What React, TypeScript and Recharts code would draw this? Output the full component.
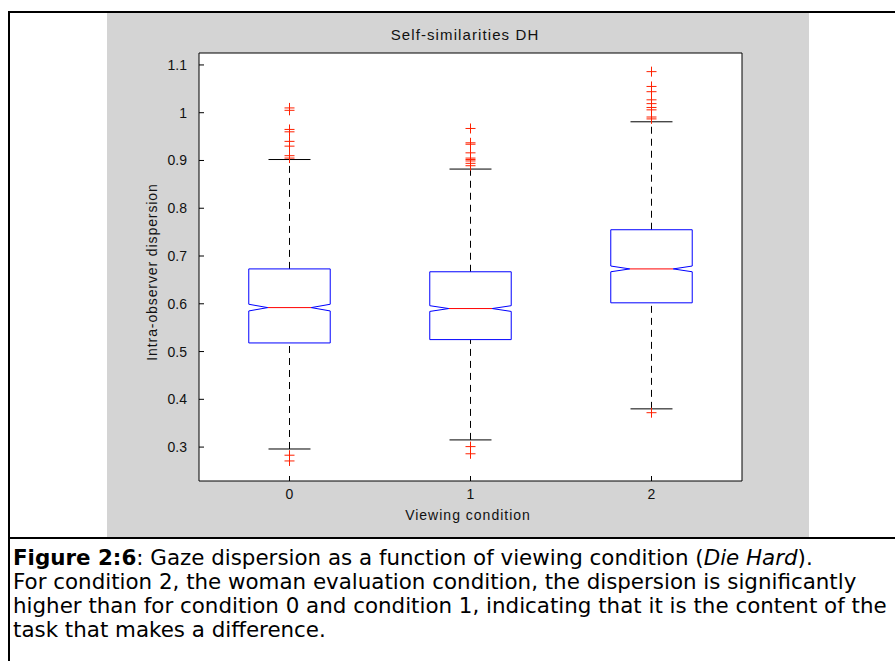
import React from 'react';
import { ScatterChart, Scatter, XAxis, YAxis, CartesianGrid, ReferenceLine } from 'recharts';

// values
const conditions = [0, 1, 2];
const q1 = [0.518, 0.525, 0.602];
const median = [0.592, 0.59, 0.673];
const q3 = [0.673, 0.667, 0.755];
const whiskerLow = [0.296, 0.315, 0.38];
const whiskerHigh = [0.902, 0.882, 0.981];
const notchHalf = [0.007, 0.006, 0.006];
const outliers0 = [1.01, 1.005, 0.965, 0.96, 0.94, 0.93, 0.91, 0.905, 0.283, 0.271];
const outliers1 = [0.967, 0.937, 0.934, 0.916, 0.905, 0.902, 0.899, 0.894, 0.889, 0.301, 0.286];
const outliers2 = [1.086, 1.055, 1.044, 1.027, 1.019, 1.011, 1.006, 0.991, 0.987, 0.372];
const yTicks = [0.3, 0.4, 0.5, 0.6, 0.7, 0.8, 0.9, 1, 1.1];

const boxHalf = 0.225;
const notchInner = 0.12;
const capHalf = 0.116;

const axisFont = '"Liberation Sans", Arial, sans-serif';
const captionFont = '"DejaVu Sans", Verdana, sans-serif';

const boxOutline = (i: number) => {
  const x = conditions[i];
  const top = median[i] + notchHalf[i];
  const bot = median[i] - notchHalf[i];
  return [
    { x: x - boxHalf, y: q3[i] },
    { x: x + boxHalf, y: q3[i] },
    { x: x + boxHalf, y: top },
    { x: x + notchInner, y: median[i] },
    { x: x + boxHalf, y: bot },
    { x: x + boxHalf, y: q1[i] },
    { x: x - boxHalf, y: q1[i] },
    { x: x - boxHalf, y: bot },
    { x: x - notchInner, y: median[i] },
    { x: x - boxHalf, y: top },
    { x: x - boxHalf, y: q3[i] },
  ];
};

const outlierPoints = [outliers0, outliers1, outliers2].flatMap((vals, i) =>
  vals.map((v) => ({ x: conditions[i], y: v }))
);

const NoDot = () => <g />;

const Plus = (props: any) => {
  const { cx, cy } = props;
  return (
    <path
      d={`M${cx - 5},${cy}H${cx + 5}M${cx},${cy - 5}V${cy + 5}`}
      stroke="#ff2000"
      strokeWidth={1}
      fill="none"
    />
  );
};

const App = () => {
  return (
    <div style={{ position: 'absolute', left: 0, top: 0, width: 895, height: 661, overflow: 'hidden', background: '#fff' }}>
      {/* figure frame */}
      <div style={{ position: 'absolute', left: 8, top: 11, width: 950, height: 700, borderLeft: '2px solid #000', borderTop: '2px solid #000' }} />
      <div style={{ position: 'absolute', left: 10, top: 537, width: 950, height: 2, background: '#000' }} />

      <div style={{ position: 'absolute', left: 107, top: 13, width: 702, height: 524, background: '#d4d4d4' }}>
        <div style={{ position: 'absolute', left: 0, width: 716, top: 13, textAlign: 'center', fontFamily: axisFont, fontSize: 15, letterSpacing: 1.1, color: '#111' }}>
          Self-similarities DH
        </div>
        <div style={{ position: 'absolute', left: 45, top: 259, width: 0, height: 0 }}>
          <div style={{ position: 'absolute', transform: 'translate(-50%, -50%) rotate(-90deg)', whiteSpace: 'nowrap', fontFamily: axisFont, fontSize: 14, letterSpacing: 0.9, color: '#111' }}>
            Intra-observer dispersion
          </div>
        </div>
        <div style={{ position: 'absolute', left: 0, width: 722, top: 494, textAlign: 'center', fontFamily: axisFont, fontSize: 14, letterSpacing: 1, color: '#111' }}>
          Viewing condition
        </div>

        <ScatterChart width={702} height={524} margin={{ top: 39, right: 66, bottom: 26, left: 0 }}>
          <CartesianGrid fill="#fff" horizontal={false} vertical={false} />
          <XAxis
            dataKey="x"
            type="number"
            domain={[-0.5, 2.5]}
            ticks={conditions}
            allowDataOverflow
            height={30}
            tickSize={-5}
            tickMargin={13}
            stroke="#000"
            tick={{ fill: '#111', fontSize: 14, fontFamily: axisFont }}
          />
          <XAxis
            xAxisId="top"
            orientation="top"
            dataKey="x"
            type="number"
            domain={[-0.5, 2.5]}
            ticks={conditions}
            allowDataOverflow
            height={1}
            tickSize={-5}
            tick={false}
            stroke="#000"
          />
          <YAxis
            dataKey="y"
            type="number"
            domain={[0.229, 1.125]}
            ticks={yTicks}
            allowDataOverflow
            width={92}
            tickSize={-5}
            tickMargin={17}
            stroke="#000"
            tick={{ fill: '#111', fontSize: 14, fontFamily: axisFont }}
          />
          <YAxis
            yAxisId="right"
            orientation="right"
            dataKey="y"
            type="number"
            domain={[0.229, 1.125]}
            ticks={yTicks}
            allowDataOverflow
            width={1}
            tickSize={-5}
            tick={false}
            stroke="#000"
          />

          {conditions.map((c, i) => (
            <ReferenceLine
              key={`wu${i}`}
              segment={[{ x: c, y: q3[i] }, { x: c, y: whiskerHigh[i] }]}
              stroke="#000"
              strokeDasharray="7 5"
            />
          ))}
          {conditions.map((c, i) => (
            <ReferenceLine
              key={`wl${i}`}
              segment={[{ x: c, y: whiskerLow[i] }, { x: c, y: q1[i] }]}
              stroke="#000"
              strokeDasharray="7 5"
            />
          ))}
          {conditions.map((c, i) => (
            <ReferenceLine
              key={`cu${i}`}
              segment={[{ x: c - capHalf, y: whiskerHigh[i] }, { x: c + capHalf, y: whiskerHigh[i] }]}
              stroke="#000"
            />
          ))}
          {conditions.map((c, i) => (
            <ReferenceLine
              key={`cl${i}`}
              segment={[{ x: c - capHalf, y: whiskerLow[i] }, { x: c + capHalf, y: whiskerLow[i] }]}
              stroke="#000"
            />
          ))}
          {conditions.map((c, i) => (
            <Scatter
              key={`box${i}`}
              data={boxOutline(i)}
              line={{ stroke: '#0000ff', strokeWidth: 1 }}
              lineType="joint"
              shape={NoDot}
              isAnimationActive={false}
            />
          ))}
          {conditions.map((c, i) => (
            <ReferenceLine
              key={`med${i}`}
              segment={[{ x: c - notchInner, y: median[i] }, { x: c + notchInner, y: median[i] }]}
              stroke="#ff0000"
            />
          ))}
          <Scatter
            data={outlierPoints}
            xAxisId="top"
            yAxisId="right"
            shape={Plus}
            isAnimationActive={false}
          />
        </ScatterChart>
      </div>

      <div style={{ position: 'absolute', left: 13, top: 546, fontFamily: captionFont, fontSize: 21.4, lineHeight: '24px', color: '#000', whiteSpace: 'nowrap' }}>
        <div><b>Figure 2:6</b>: Gaze dispersion as a function of viewing condition (<i>Die Hard</i>).</div>
        <div>For condition 2, the woman evaluation condition, the dispersion is significantly</div>
        <div>higher than for condition 0 and condition 1, indicating that it is the content of the</div>
        <div>task that makes a difference.</div>
      </div>
    </div>
  );
};

export default App;
